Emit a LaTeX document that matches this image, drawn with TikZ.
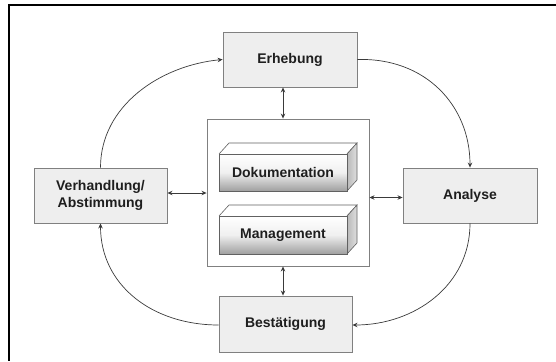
\documentclass[tikz,border=0pt]{standalone}
\usepackage{fontspec}
\setmainfont{Liberation Sans}
\usetikzlibrary{arrows.meta}
\definecolor{boxfill}{HTML}{EEEEEE}
\definecolor{boxline}{HTML}{808080}
\definecolor{wire}{HTML}{3A3A3A}
\definecolor{ink}{HTML}{1E1E1E}
\tikzset{
  phase/.style={draw=boxline, line width=0.9pt, fill=boxfill, align=center,
    font=\bfseries\fontsize{14}{16.5}\selectfont, text=ink, inner sep=0pt},
  hub/.style={draw=boxline, line width=0.9pt, fill=white, inner sep=0pt},
  flow/.style={draw=wire, line width=0.7pt, -{Stealth[length=5pt,width=4.5pt]}},
  link/.style={draw=wire, line width=0.7pt, {Stealth[length=5pt,width=4.5pt]}-{Stealth[length=5pt,width=4.5pt]}},
  blockedge/.style={draw=wire!80, line width=0.6pt},
  blocklabel/.style={font=\bfseries\fontsize{14}{16.5}\selectfont, text=ink, inner sep=0pt},
}
% cuboid: front face from (#1,#2) top-left to (#3,#4) bottom-right, depth offset (10,-11)
\newcommand{\cuboid}[5]{%
  \fill[white] (#1,#2) -- ++(10,-11) -- (#3+10,#2-11) -- (#3,#2) -- cycle;
  \draw[blockedge] (#1,#2) -- ++(10,-11) -- (#3+10,#2-11) -- (#3,#2);
  \shade[left color=gray!55, right color=gray!25] (#3,#2) -- (#3+10,#2-11) -- (#3+10,#4-11) -- (#3,#4) -- cycle;
  \draw[blockedge] (#3,#2) -- (#3+10,#2-11) -- (#3+10,#4-11) -- (#3,#4);
  \shade[top color=white, bottom color=gray!75, middle color=gray!12] (#1,#2) rectangle (#3,#4);
  \draw[blockedge] (#1,#2) rectangle (#3,#4);
  \node[blocklabel] (#5) at ({(#1+#3)/2},{(#2+#4)/2}) {#5};
}
\begin{document}
\begin{tikzpicture}[x=1pt, y=-1pt]
  \useasboundingbox (0,0) rectangle (556,361);
  % frame: top and left edges only
  \draw[black, line width=1.3pt] (556,5) -- (9,5) -- (9,361);

  % phases
  \node[phase, minimum width=134pt, minimum height=55pt] (erh) at (290,59.5) {Erhebung};
  \node[phase, minimum width=133pt, minimum height=55pt] (verh) at (100.5,195.5) {Verhandlung/\\Abstimmung};
  \node[phase, minimum width=134pt, minimum height=55pt] (ana) at (470,195.5) {Analyse};
  \node[phase, minimum width=133pt, minimum height=56pt] (best) at (285.5,324) {Bestätigung};

  % central repository
  \node[hub, minimum width=162pt, minimum height=147pt] (hub) at (288,192.5) {};
  \cuboid{219}{154}{347}{191}{Dokumentation}
  \cuboid{219}{216}{347}{254}{Management}

  % links to the repository
  \draw[link] ([xshift=-7pt]erh.south) -- ([xshift=-5pt]hub.north);
  \draw[link] ([xshift=-5pt]hub.south) -- ([xshift=-2.5pt]best.north);
  \draw[link] ([yshift=2.5pt]verh.east) -- ([yshift=-0.5pt]hub.west);
  \draw[link] ([yshift=-5pt]hub.east) -- ([yshift=-2pt]ana.west);

  % cycle
  \draw[flow] (verh.north) .. controls +(0,-62) and +(-62,6) .. (erh.west);
  \draw[flow] (erh.east) .. controls +(68,-2) and +(0,-62) .. (ana.north);
  \draw[flow] (ana.south) .. controls +(0,62) and +(62,0) .. ([yshift=-1pt]best.east);
  \draw[flow] ([yshift=-1pt]best.west) .. controls +(-66,0) and +(0,62) .. (verh.south);
\end{tikzpicture}
\end{document}
